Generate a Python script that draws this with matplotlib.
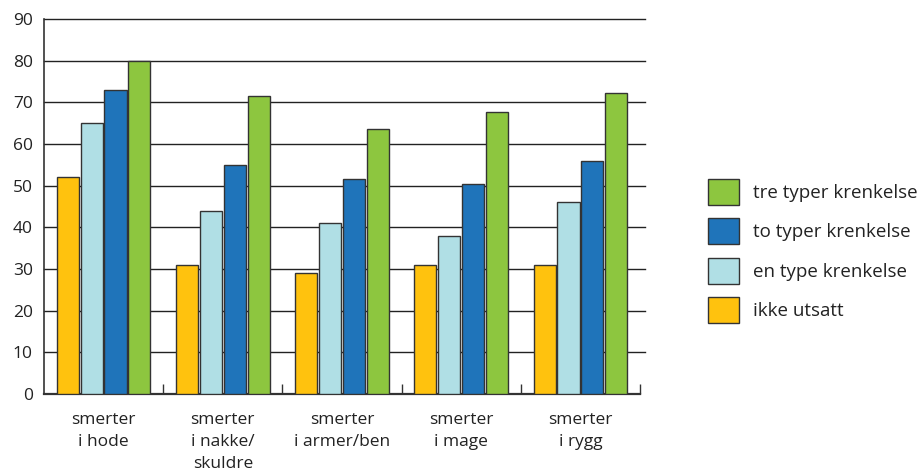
import matplotlib
matplotlib.use("Agg")
import matplotlib.pyplot as plt
from matplotlib.patches import Patch
import numpy as np

plt.rcParams['font.family'] = ['Open Sans', 'DejaVu Sans']

categories = ["smerter\ni hode", "smerter\ni nakke/\nskuldre", "smerter\ni armer/ben",
              "smerter\ni mage", "smerter\ni rygg"]
series_names = ["ikke utsatt", "en type krenkelse", "to typer krenkelse", "tre typer krenkelse"]
ikke_utsatt = [52, 31, 29, 31, 31]
en_type = [65, 44, 41, 38, 46]
to_typer = [73, 55, 51.5, 50.3, 56]
tre_typer = [80, 71.5, 63.5, 67.7, 72.3]
yticks = [0, 10, 20, 30, 40, 50, 60, 70, 80, 90]

colors = ["#FFC20E", "#B0DFE5", "#1F74BA", "#8DC63F"]
values = [ikke_utsatt, en_type, to_typer, tre_typer]

fig = plt.figure(figsize=(9.19, 4.75), dpi=100)
ax = fig.add_axes([44/919, 1-394/475, (640-44)/919, (394-19)/475])

x = np.arange(len(categories))
offsets = [-0.3, -0.1, 0.1, 0.3]
for vals, off, c, name in zip(values, offsets, colors, series_names):
    ax.bar(x + off, vals, width=0.185, color=c, edgecolor="#333333", linewidth=1.0,
           zorder=3, label=name)

ax.set_xlim(-0.5, 4.5)
ax.set_ylim(0, 90)
ax.set_yticks(yticks)
ax.set_yticklabels([str(t) for t in yticks], fontsize=12.5, color="#222222")
ax.tick_params(axis='y', length=0, pad=8)
for t in yticks[1:]:
    ax.axhline(t, color="#222222", linewidth=1.0, zorder=1, xmax=1.008, clip_on=False)

ax.set_xticks(x)
ax.set_xticklabels(categories, fontsize=12.5, color="#222222", linespacing=1.5, va='top')
ax.tick_params(axis='x', length=0, pad=13)
ax.set_xticks(np.arange(0.5, 5.0, 1.0), minor=True)
ax.tick_params(axis='x', which='minor', direction='in', length=7, width=1.0, color="#333333")

for s in ['top', 'right']:
    ax.spines[s].set_visible(False)
ax.spines['left'].set_color("#333333")
ax.spines['bottom'].set_color("#333333")
ax.spines['bottom'].set_linewidth(1.6)
ax.spines['left'].set_linewidth(1.2)

handles = [Patch(facecolor=c, edgecolor="#333333", linewidth=1.0) for c in colors][::-1]
labels = series_names[::-1]
fig.legend(handles, labels, loc='center left', bbox_to_anchor=(708/919, 1-251/475),
           frameon=False, fontsize=13.5, handlelength=1.65, handleheight=1.76,
           handletextpad=0.75, labelspacing=0.72, borderpad=0, borderaxespad=0,
           labelcolor="#222222")

fig.savefig("out.png", dpi=100)
